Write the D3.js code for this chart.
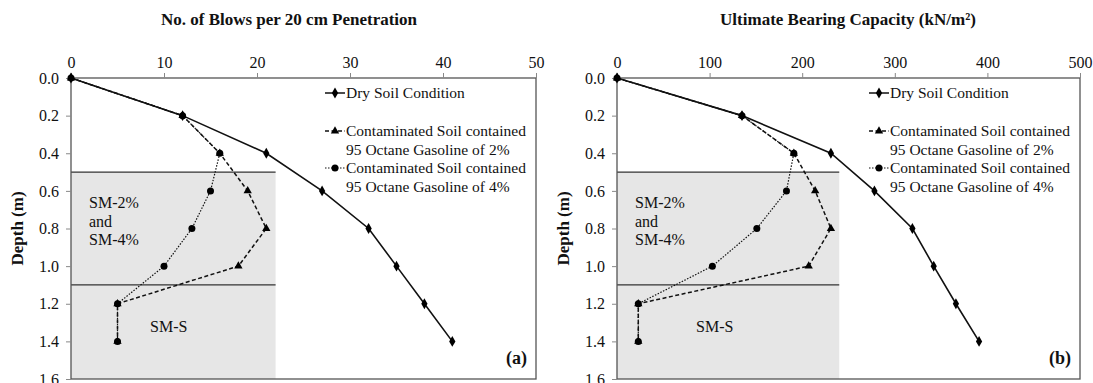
<!DOCTYPE html>
<html>
<head>
<meta charset="utf-8">
<script src="https://d3js.org/d3.v7.min.js"></script>
<style>
  body { margin: 0; background: #fff; }
  text { font-family: "Liberation Serif", "Times New Roman", serif; fill: #111; }
</style>
</head>
<body>
<script>
// depths (m)
const depths = [0, 0.2, 0.4, 0.6, 0.8, 1.0, 1.2, 1.4];

// (a) blows per 20 cm
const blowsDry = [0, 12, 21, 27, 32, 35, 38, 41];
const blows2 = [0, 12, 16, 19, 21, 18, 5, 5];
const blows4 = [0, 12, 16, 15, 13, 10, 5, 5];

// (b) ultimate bearing capacity (kN/m2)
const ubcDry = [0, 135, 231, 278, 319, 342, 366, 391];
const ubc2 = [0, 135, 191, 214, 231, 207, 23, 23];
const ubc4 = [0, 135, 191, 183, 151, 103, 23, 23];

const yTicks = [0, 0.2, 0.4, 0.6, 0.8, 1.0, 1.2, 1.4, 1.6];
const blowsTicks = [0, 10, 20, 30, 40, 50];
const ubcTicks = [0, 100, 200, 300, 400, 500];

const legendLabels = [
  ["Dry Soil Condition"],
  ["Contaminated Soil contained", "95 Octane Gasoline of 2%"],
  ["Contaminated Soil contained", "95 Octane Gasoline of 4%"]
];
// soil layer boundaries (m)
const layerBreaks = [0.5, 1.1];

const W = 1093, H = 383;
const svg = d3.select("body").append("svg").attr("width", W).attr("height", H);

function diamond(g, x, y) {
  g.append("path").attr("d", d3.symbol(d3.symbolDiamond, 34)()).attr("transform", `translate(${x},${y})`).attr("fill", "#000");
}
function triangle(g, x, y) {
  g.append("path").attr("d", d3.symbol(d3.symbolTriangle, 30)()).attr("transform", `translate(${x},${y})`).attr("fill", "#000");
}
function circle(g, x, y) {
  g.append("circle").attr("cx", x).attr("cy", y).attr("r", 3.5).attr("fill", "#000");
}

function drawPanel(opt) {
  const x = d3.scaleLinear().domain([0, opt.xmax]).range([opt.left, opt.right]);
  const y = d3.scaleLinear().domain([0, 1.6]).range([78, 379]);
  const g = svg.append("g");

  // grey soil region
  g.append("rect")
    .attr("x", x(0)).attr("y", y(layerBreaks[0]))
    .attr("width", x(opt.greyTo) - x(0)).attr("height", y(1.6) - y(layerBreaks[0]))
    .attr("fill", "#e6e6e6");
  layerBreaks.forEach(b => {
    g.append("line").attr("x1", x(0)).attr("x2", x(opt.greyTo))
      .attr("y1", y(b)).attr("y2", y(b)).attr("stroke", "#333").attr("stroke-width", 1.3);
  });

  // frame
  g.append("rect").attr("x", x(0)).attr("y", y(0))
    .attr("width", x(opt.xmax) - x(0)).attr("height", y(1.6) - y(0))
    .attr("fill", "none").attr("stroke", "#555").attr("stroke-width", 1.3);

  // axes
  const xAxis = d3.axisTop(x).tickValues(opt.ticks).tickSize(5).tickFormat(d3.format("d"));
  const ax = g.append("g").attr("transform", `translate(0,${y(0)})`).call(xAxis);
  const yAxis = d3.axisLeft(y).tickValues(yTicks).tickSize(5).tickFormat(d3.format(".1f"));
  const ay = g.append("g").attr("transform", `translate(${x(0)},0)`).call(yAxis);
  [ax, ay].forEach(a => {
    a.select(".domain").remove();
    a.selectAll(".tick line").attr("stroke", "#888");
    a.selectAll(".tick text").style("font-size", "16px").attr("fill", "#222");
  });
  ax.selectAll(".tick text").attr("dy", "-0.15em");
  ay.selectAll(".tick text").attr("dx", "-0.25em");

  // titles
  g.append("text").attr("x", opt.titleX).attr("y", 25).attr("text-anchor", "middle")
    .style("font-size", "17px").style("font-weight", "bold").text(opt.title);
  g.append("text").attr("transform", `translate(${x(0) - 48},${y(0.8)}) rotate(-90)`)
    .attr("text-anchor", "middle").style("font-size", "17px").style("font-weight", "bold")
    .text("Depth (m)");

  // layer labels
  ["SM-2%", "and", "SM-4%"].forEach((t, i) => {
    g.append("text").attr("x", x(0) + 18).attr("y", 208 + i * 18.5)
      .style("font-size", "16px").text(t);
  });
  g.append("text").attr("x", x(0) + 79).attr("y", y(1.33) + 4).style("font-size", "16px").text("SM-S");

  g.append("text").attr("x", x(opt.xmax) - 9).attr("y", 364).attr("text-anchor", "end")
    .style("font-size", "18px").style("font-weight", "bold").text(opt.tag);

  // series
  const line = vals => d3.line().x((d, i) => x(vals[i])).y(d => y(d))(depths);
  g.append("path").attr("d", line(opt.v4)).attr("fill", "none").attr("stroke", "#111")
    .attr("stroke-width", 1.2).attr("stroke-dasharray", "1.5,1.5");
  g.append("path").attr("d", line(opt.v2)).attr("fill", "none").attr("stroke", "#111")
    .attr("stroke-width", 1.5).attr("stroke-dasharray", "4,2.5");
  g.append("path").attr("d", line(opt.dry)).attr("fill", "none").attr("stroke", "#111")
    .attr("stroke-width", 1.6);
  depths.forEach((d, i) => circle(g, x(opt.v4[i]), y(d)));
  depths.forEach((d, i) => triangle(g, x(opt.v2[i]), y(d)));
  depths.forEach((d, i) => diamond(g, x(opt.dry[i]), y(d)));

  // legend
  const lg = g.append("g").attr("transform", `translate(${opt.legX},0)`);
  const rows = [93, 131, 168];
  const dash = ["none", "4,2.5", "1.5,1.5"];
  const marks = [diamond, triangle, circle];
  legendLabels.forEach((lab, k) => {
    lg.append("line").attr("x1", 0).attr("x2", 20).attr("y1", rows[k]).attr("y2", rows[k])
      .attr("stroke", "#111").attr("stroke-width", k === 2 ? 1.1 : 1.5).attr("stroke-dasharray", dash[k]);
    marks[k](lg, 10, rows[k]);
    lab.forEach((t, j) => {
      lg.append("text").attr("x", 21).attr("y", rows[k] + 5 + j * 18.5)
        .style("font-size", "15.5px").text(t);
    });
  });
}

drawPanel({
  left: 71, right: 536, xmax: 50, greyTo: 22, ticks: blowsTicks,
  dry: blowsDry, v2: blows2, v4: blows4,
  title: "No. of Blows per 20 cm Penetration", titleX: 289, tag: "(a)", legX: 325
});
drawPanel({
  left: 617, right: 1080, xmax: 500, greyTo: 240, ticks: ubcTicks,
  dry: ubcDry, v2: ubc2, v4: ubc4,
  title: "Ultimate Bearing Capacity (kN/m²)", titleX: 848, tag: "(b)", legX: 869
});
</script>
</body>
</html>
